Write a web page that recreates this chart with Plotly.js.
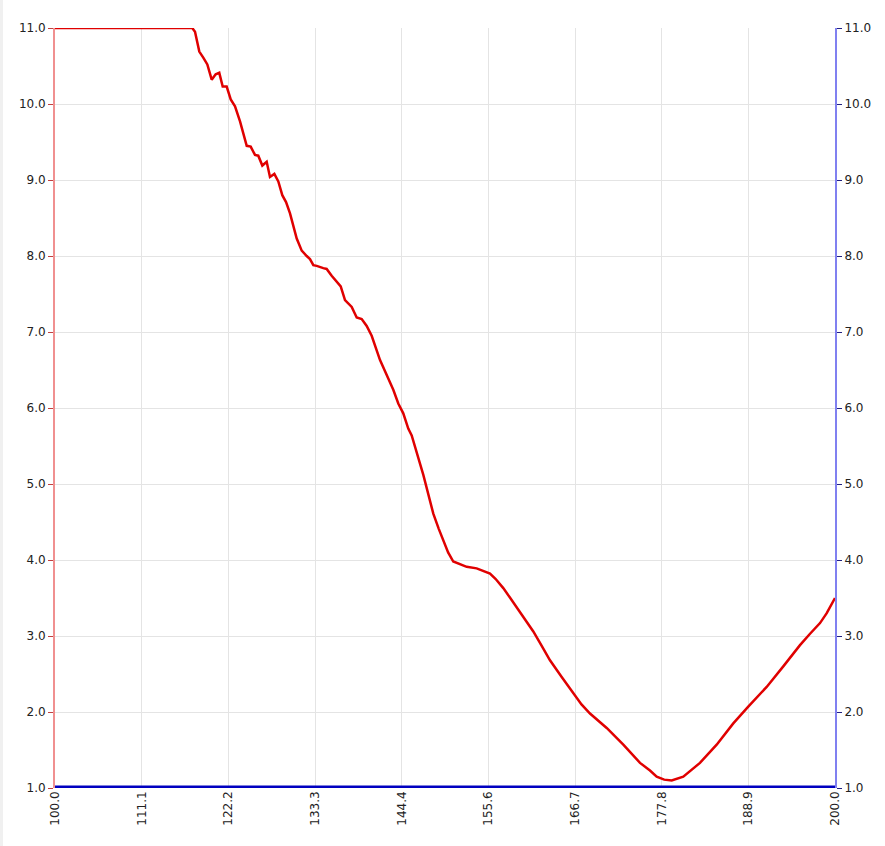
<!DOCTYPE html>
<html>
<head>
<meta charset="utf-8">
<script src="https://cdn.plot.ly/plotly-3.0.1.min.js"></script>
<style>html,body{margin:0;padding:0;background:#fff;}#chart{width:885px;height:846px;}</style>
</head>
<body>
<div id="chart"></div>
<script>
const xRed = [100, 117.6, 117.95, 118.5, 119.01, 119.53, 120.09, 120.6, 121.06, 121.5, 122.01, 122.53, 123.08, 123.72, 124.58, 125.09, 125.64, 126.06, 126.58, 127.14, 127.56, 128.12, 128.63, 129.14, 129.62, 130.13, 130.99, 131.63, 132.27, 132.69, 133.12, 133.55, 134.4, 134.83, 135.47, 136.63, 137.18, 138.04, 138.68, 139.32, 139.96, 140.6, 141.67, 142.53, 143.37, 144.01, 144.65, 145.29, 145.73, 147.22, 148.5, 149.2, 149.78, 150.4, 151.06, 152.78, 154.06, 155.77, 156.5, 157.47, 158.3, 159.19, 160.2, 161.32, 162.4, 163.46, 164.96, 166.45, 167.5, 168.59, 169.7, 170.73, 172.86, 175.0, 176.28, 177.14, 178.1, 179.06, 180.55, 182.69, 184.83, 186.96, 188.88, 191.24, 193.37, 195.51, 196.8, 198.08, 198.94, 200];
const yRed = [11, 11, 10.95, 10.69, 10.61, 10.52, 10.32, 10.39, 10.41, 10.23, 10.23, 10.06, 9.97, 9.77, 9.45, 9.44, 9.33, 9.32, 9.19, 9.24, 9.04, 9.08, 8.98, 8.80, 8.71, 8.56, 8.23, 8.07, 8.0, 7.96, 7.88, 7.87, 7.84, 7.83, 7.74, 7.60, 7.42, 7.33, 7.19, 7.17, 7.08, 6.95, 6.63, 6.43, 6.24, 6.06, 5.93, 5.73, 5.64, 5.12, 4.61, 4.41, 4.26, 4.10, 3.98, 3.91, 3.89, 3.82, 3.75, 3.63, 3.51, 3.38, 3.23, 3.06, 2.87, 2.68, 2.46, 2.25, 2.10, 1.98, 1.88, 1.79, 1.57, 1.33, 1.23, 1.15, 1.11, 1.10, 1.15, 1.33, 1.57, 1.85, 2.07, 2.33, 2.60, 2.88, 3.03, 3.17, 3.30, 3.50];
const xBlue = [100, 200];
const yBlue = [1, 1];

const tickFont = {family: 'DejaVu Sans, Verdana, sans-serif', size: 12, color: '#222'};

const traces = [
  {x: xRed, y: yRed, type: 'scatter', mode: 'lines', line: {color: '#e00000', width: 2.5}, yaxis: 'y', cliponaxis: false, hoverinfo: 'none'},
  {x: xBlue, y: yBlue, type: 'scatter', mode: 'lines', line: {color: '#0000c0', width: 5}, yaxis: 'y2', cliponaxis: false, hoverinfo: 'none'}
];

const layout = {
  width: 885, height: 846,
  margin: {l: 55, r: 50, t: 28, b: 58},
  paper_bgcolor: '#fff', plot_bgcolor: '#fff',
  showlegend: false,
  xaxis: {
    range: [100, 200], tick0: 100, dtick: 100/9, tickformat: '.1f',
    tickangle: -90, tickfont: tickFont,
    showgrid: true, gridcolor: '#e4e4e4', gridwidth: 1,
    zeroline: false, showline: false,
    ticks: '', ticklen: 0
  },
  yaxis: {
    range: [1, 11], dtick: 1, tick0: 1, tickformat: '.1f', tickfont: tickFont,
    showgrid: true, gridcolor: '#e4e4e4', gridwidth: 1,
    zeroline: false, showline: true, linecolor: '#f09090', linewidth: 2,
    ticks: 'outside', ticklen: 5, tickcolor: '#c04040', tickwidth: 1
  },
  yaxis2: {
    range: [1, 11], dtick: 1, tick0: 1, tickformat: '.1f', tickfont: tickFont,
    overlaying: 'y', side: 'right', showgrid: false,
    zeroline: false, showline: true, linecolor: '#8080f0', linewidth: 2,
    ticks: 'outside', ticklen: 5, tickcolor: '#202080', tickwidth: 1
  },
  shapes: [
    {type: 'rect', xref: 'paper', yref: 'paper', x0: -0.0705, x1: -0.0667, y0: -0.0763, y1: 1.0368, fillcolor: '#f0f0f0', line: {width: 0}, layer: 'below'}
  ]
};

Plotly.newPlot('chart', traces, layout, {displayModeBar: false, staticPlot: true});
</script>
</body>
</html>
